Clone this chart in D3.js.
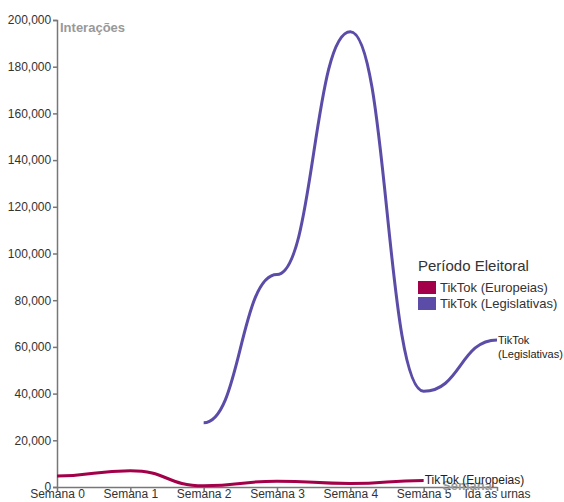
<!DOCTYPE html>
<html><head><meta charset="utf-8">
<script src="https://cdn.jsdelivr.net/npm/d3@7"></script>
<style>body{margin:0;background:#fff;font-family:"Liberation Sans",Arial,sans-serif;}</style>
</head><body><svg id="c" width="564" height="502"></svg>
<script>
const weeks = ["Semana 0","Semana 1","Semana 2","Semana 3","Semana 4","Semana 5","Ida às urnas"];
const europeias = [4700, 7000, 500, 2500, 1500, 2800, null];
const legislativas = [null, null, 27500, 91000, 195000, 41000, 63000];
const yTicks = [0,20000,40000,60000,80000,100000,120000,140000,160000,180000,200000];
const seriesNames = ["TikTok (Europeias)","TikTok (Legislativas)"];
const colors = ["#a3004a","#5b4ca8"];

const svg = d3.select("#c");
const x = d3.scalePoint().domain(weeks).range([57, 497]);
const y = d3.scaleLinear().domain([0, 200000]).range([487, 20]);

const yAxis = svg.append("g").attr("transform","translate(57,0)")
  .call(d3.axisLeft(y).tickValues(yTicks).tickFormat(d3.format(",")).tickSize(4));
const xAxis = svg.append("g").attr("transform","translate(0,487)")
  .call(d3.axisBottom(x).tickSize(4).tickSizeOuter(0));
[yAxis, xAxis].forEach(a=>{
  a.selectAll("path,line").attr("stroke","#777").attr("stroke-width",1.5);
  a.selectAll("text").attr("fill","#333").style("font-size","12px").style("font-family","Liberation Sans, Arial, sans-serif");
});
xAxis.selectAll("text").attr("y",2).attr("dy","0.71em");
yAxis.selectAll("text").attr("dx","0.1em");

svg.append("text").attr("x",60).attr("y",32).text("Interações")
  .attr("fill","#999").style("font-weight","bold").style("font-size","13px");
svg.append("text").attr("x",492).attr("y",490).attr("text-anchor","end").text("Semana")
  .attr("fill","#999").style("font-weight","bold").style("font-size","13px");

const line = d3.line().defined(d=>d[1]!=null).x(d=>x(d[0])).y(d=>y(d[1])).curve(d3.curveBumpX);
const data = [europeias, legislativas].map(arr=>weeks.map((w,i)=>[w,arr[i]]));
data.forEach((d,i)=>{
  svg.append("path").datum(d).attr("d",line).attr("fill","none")
    .attr("stroke",colors[i]).attr("stroke-width",3);
});

// end labels
svg.append("text").attr("x", x("Semana 5")+1).attr("y", y(2800)+4).text("TikTok (Europeias)")
  .attr("fill","#222").style("font-size","12px");
const lt = svg.append("text").attr("x", x("Ida às urnas")+1).attr("y", y(63000)+4)
  .attr("fill","#222").style("font-size","11px");
lt.append("tspan").attr("x", x("Ida às urnas")+1).text("TikTok");
lt.append("tspan").attr("x", x("Ida às urnas")+1).attr("dy","1.25em").text("(Legislativas)");

// legend
const lg = svg.append("g").attr("transform","translate(418,271)");
lg.append("text").text("Período Eleitoral").attr("fill","#333").style("font-size","15px");
seriesNames.forEach((n,i)=>{
  lg.append("rect").attr("x",0).attr("y",10+i*16).attr("width",18).attr("height",13).attr("fill",colors[i]);
  lg.append("text").attr("x",22).attr("y",21+i*16).text(n).attr("fill","#333").style("font-size","13px");
});
</script></body></html>
